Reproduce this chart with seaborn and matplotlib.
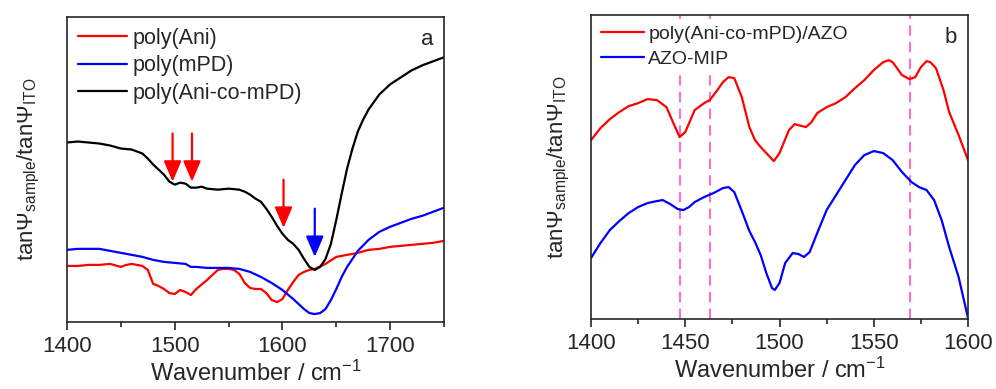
import pandas as pd
import seaborn as sns
import matplotlib.pyplot as plt
from matplotlib.ticker import MultipleLocator

# panel a: ellipsometric ratio spectra (arbitrary units)
ani_x = [1400, 1410, 1420, 1430, 1440, 1450, 1455, 1460, 1470, 1475, 1480, 1485, 1490, 1495, 1500,
         1505, 1510, 1515, 1520, 1530, 1540, 1545, 1550, 1555, 1560, 1565, 1570, 1575, 1580, 1585,
         1590, 1595, 1600, 1605, 1610, 1615, 1620, 1625, 1630, 1640, 1650, 1660, 1670, 1680, 1690,
         1700, 1710, 1720, 1730, 1740, 1750]
ani_y = [56, 56, 57, 57, 58, 55, 57, 58, 56, 52, 38, 36, 33, 29, 28,
         32, 30, 27, 33, 42, 52, 53, 53, 52, 48, 39, 34, 33, 33, 29,
         22, 20, 23, 32, 40, 47, 50, 52, 53, 58, 65, 67, 69, 72, 73,
         75, 76, 77, 78, 79, 81]

mpd_x = [1400, 1410, 1420, 1430, 1440, 1450, 1460, 1470, 1480, 1490, 1500, 1510, 1515, 1520, 1530,
         1540, 1550, 1560, 1570, 1580, 1590, 1600, 1610, 1620, 1625, 1630, 1635, 1640, 1645, 1650,
         1655, 1660, 1665, 1670, 1680, 1690, 1700, 1710, 1720, 1730, 1740, 1750]
mpd_y = [72, 73, 73, 73, 71, 69, 67, 65, 62, 60, 59, 58, 55, 55, 54,
         54, 54, 53, 50, 45, 39, 32, 23, 13, 9, 8, 9, 13, 22, 33,
         45, 55, 63, 71, 82, 90, 95, 99, 103, 106, 110, 114]

co_x = [1400, 1410, 1420, 1430, 1440, 1450, 1460, 1470, 1475, 1480, 1485, 1490, 1495, 1500, 1505,
        1510, 1515, 1520, 1525, 1530, 1540, 1550, 1560, 1565, 1570, 1575, 1580, 1585, 1590, 1595,
        1600, 1605, 1610, 1615, 1620, 1625, 1630, 1635, 1640, 1645, 1650, 1655, 1660, 1665, 1670,
        1675, 1680, 1690, 1700, 1710, 1720, 1730, 1740, 1750]
co_y = [179, 180, 179, 178, 176, 173, 172, 168, 163, 157, 152, 147, 140, 137, 139,
        138, 134, 134, 135, 133, 132, 133, 132, 130, 127, 123, 120, 113, 105, 96,
        88, 82, 78, 72, 63, 55, 52, 55, 63, 78, 102, 128, 153, 173, 190,
        202, 212, 227, 237, 244, 251, 256, 260, 264]

# arrows marking bands: (wavenumber, tail, tip, colour)
arrows_a = [(1498, 188, 140, 'red'), (1516, 188, 140, 'red'),
            (1601, 142, 94, 'red'), (1630, 113, 65, 'blue')]

# panel b
azo_x = [1400, 1405, 1410, 1415, 1420, 1425, 1430, 1435, 1440, 1443, 1447, 1450, 1455, 1460, 1463,
         1467, 1470, 1473, 1476, 1480, 1484, 1487, 1490, 1495, 1497, 1500, 1505, 1508, 1510, 1514,
         1517, 1520, 1525, 1530, 1535, 1540, 1545, 1550, 1555, 1558, 1560, 1565, 1569, 1572, 1575,
         1578, 1580, 1583, 1587, 1590, 1595, 1600]
azo_y = [179, 191, 200, 207, 213, 216, 220, 219, 212, 199, 182, 187, 209, 216, 219,
         229, 237, 242, 241, 222, 192, 179, 172, 162, 158, 166, 189, 195, 194, 192,
         197, 206, 212, 216, 222, 231, 239, 249, 257, 259, 257, 244, 240, 242, 252,
         258, 257, 251, 229, 207, 184, 159]

mip_x = [1400, 1405, 1410, 1415, 1420, 1425, 1430, 1435, 1438, 1442, 1446, 1449, 1452, 1455, 1460,
         1465, 1470, 1473, 1476, 1480, 1484, 1487, 1490, 1493, 1496, 1497.5, 1500, 1503, 1507, 1510,
         1513, 1516, 1520, 1525, 1530, 1535, 1540, 1545, 1550, 1555, 1560, 1565, 1570, 1574, 1578,
         1582, 1586, 1590, 1595, 1600]
mip_y = [61, 76, 89, 98, 106, 112, 116, 118, 119, 115, 110, 109, 112, 117, 122,
         126, 131, 132, 127, 108, 88, 77, 64, 46, 31, 29, 36, 56, 66, 65,
         62, 67, 86, 109, 124, 139, 154, 164, 168, 166, 159, 147, 137, 132, 129,
         119, 99, 72, 42, 1]

marker_lines_b = [1447, 1463, 1569]

df_a = pd.concat([
    pd.DataFrame({'wn': ani_x, 'val': ani_y, 'sample': 'poly(Ani)'}),
    pd.DataFrame({'wn': mpd_x, 'val': mpd_y, 'sample': 'poly(mPD)'}),
    pd.DataFrame({'wn': co_x, 'val': co_y, 'sample': 'poly(Ani-co-mPD)'}),
])
df_b = pd.concat([
    pd.DataFrame({'wn': azo_x, 'val': azo_y, 'sample': 'poly(Ani-co-mPD)/AZO'}),
    pd.DataFrame({'wn': mip_x, 'val': mip_y, 'sample': 'AZO-MIP'}),
])

sns.set_style('ticks')
plt.rcParams['font.family'] = ['Liberation Sans', 'DejaVu Sans']
plt.rcParams['mathtext.fontset'] = 'custom'
plt.rcParams['mathtext.rm'] = 'Liberation Sans'
plt.rcParams['mathtext.it'] = 'Liberation Sans:italic'
plt.rcParams['mathtext.bf'] = 'Liberation Sans:bold'

fig = plt.figure(figsize=(9.96, 3.89), dpi=100)
axa = fig.add_axes([0.0673, 0.172, 0.3785, 0.784])
axb = fig.add_axes([0.5934, 0.180, 0.3785, 0.781])

order_a = ['poly(Ani)', 'poly(mPD)', 'poly(Ani-co-mPD)']
sns.lineplot(data=df_a, x='wn', y='val', hue='sample', hue_order=order_a,
             palette=['#ff0000', '#0000ff', '#000000'], estimator=None, sort=False,
             lw=1.6, legend=False, ax=axa)

for wn, tail, tip, c in arrows_a:
    axa.annotate('', xy=(wn, tip), xytext=(wn, tail),
                 arrowprops=dict(arrowstyle='-|>,head_length=0.7,head_width=0.3',
                                 color=c, lw=1.6, mutation_scale=18, shrinkA=0, shrinkB=0))

order_b = ['poly(Ani-co-mPD)/AZO', 'AZO-MIP']
for wn in marker_lines_b:
    axb.axvline(wn, color='#ff6ec7', ls=(0, (5, 3)), lw=1.5, zorder=1)
sns.lineplot(data=df_b, x='wn', y='val', hue='sample', hue_order=order_b,
             palette=['#ff0000', '#0000ff'], estimator=None, sort=False,
             lw=1.6, legend=False, ax=axb)

panels = [
    (axa, (1400, 1750), 100, 50, axa.lines[:3], order_a, 'a', 15.5, 0.3, 2.3),
    (axb, (1400, 1600), 50, 25, axb.lines[3:5], order_b, 'b', 14, 0.4, 2.2),
]
for ax, xlim, major, minor, lines, names, tag, lfs, lsp, hlen in panels:
    ax.set_xlim(*xlim)
    ax.set_ylim(0, 304)
    ax.xaxis.set_major_locator(MultipleLocator(major))
    ax.xaxis.set_minor_locator(MultipleLocator(minor))
    ax.set_yticks([])
    ax.tick_params(axis='x', which='major', direction='out', length=6, width=1.2,
                   labelsize=16, pad=4)
    ax.tick_params(axis='x', which='minor', direction='out', length=3.5, width=1.2)
    for s in ax.spines.values():
        s.set_linewidth(1.2)
    ax.set_xlabel('Wavenumber / cm$^{-1}$', fontsize=17, labelpad=3)
    ax.text(0.955, 0.928, tag, transform=ax.transAxes, ha='center', va='center', fontsize=16)
    leg = ax.legend(lines, names, loc='upper left', fontsize=lfs, handlelength=hlen,
                    handletextpad=0.25, labelspacing=lsp, borderaxespad=0.2,
                    borderpad=0.3, frameon=True, fancybox=False, framealpha=1)
    leg.get_frame().set_facecolor('white')
    leg.get_frame().set_edgecolor('none')

axa.set_ylabel('tanΨ$_{\\mathrm{sample}}$/tanΨ$_{\\mathrm{ITO}}$', fontsize=16, labelpad=18)
axb.set_ylabel('tanΨ$_{\\mathrm{sample}}$/tanΨ$_{\\mathrm{ITO}}$', fontsize=16, labelpad=14)

fig.savefig('out.png', dpi=100)
